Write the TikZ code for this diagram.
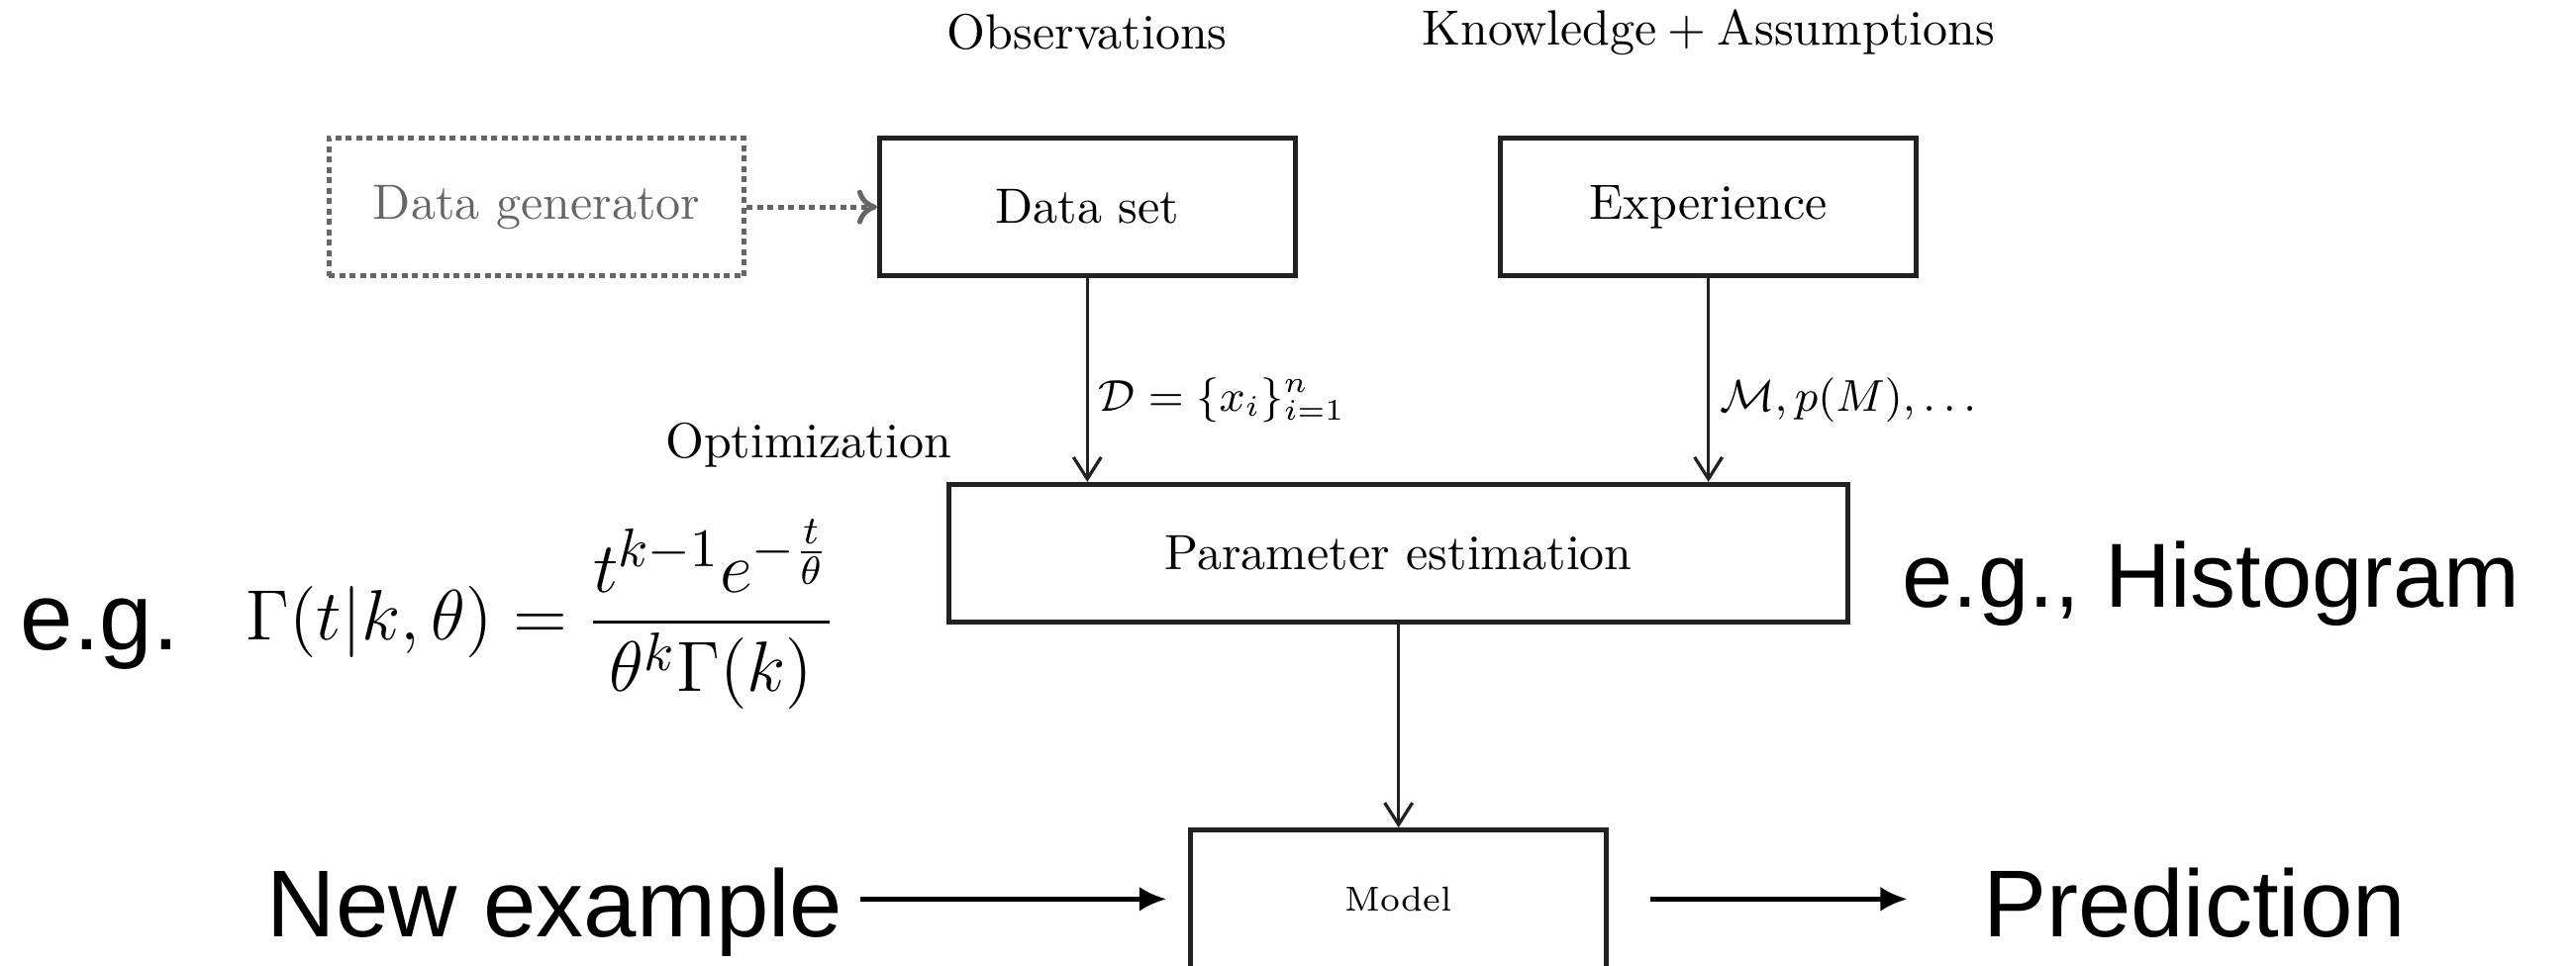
\documentclass[tikz,border=0pt]{standalone}
\usepackage{amsmath, amssymb}
\usepackage{fontspec}
\newfontfamily\helv{Liberation Sans}
\usetikzlibrary{arrows.meta}

\begin{document}
\begin{tikzpicture}[
		box/.style={draw=black!87, line width=1pt, minimum width=2.95cm, minimum height=0.98cm, inner sep=0pt},
		flow/.style={draw=black!87, line width=0.65pt, -{Straight Barb[length=4.4pt,width=5.6pt]}},
		lbl/.style={font=\fontsize{9.2}{11}\selectfont, inner sep=2pt},
		big/.style={font=\helv\fontsize{19.2}{22}\selectfont},
		bigarrow/.style={draw=black, line width=1pt, -{Latex[length=5.5pt,width=5pt]}}
	]
		\useasboundingbox (0,0) rectangle (18.29,6.86);
		% boxes
		\node[box, draw=black!60, dash pattern=on 1.2pt off 0.9pt, text=black!60] (generator) at (3.81,5.39) {Data generator};
		\node[box] (dataset) at (7.72,5.39) {Data set};
		\node[box] (experience) at (12.13,5.39) {Experience};
		\node[box, minimum width=6.38cm] (estimation) at (9.93,2.93) {Parameter estimation};
		\node[box, font=\scriptsize] (model) at (9.93,0.475) {Model};
		% headings
		\node (observations) at (7.72,6.63) {Observations};
		\node (knowledge) at (12.13,6.63) {Knowledge${}+{}$Assumptions};
		\node (optimization) at (5.74,3.70) {Optimization};
		% connectors
		\draw[draw=black!60, line width=1pt, dash pattern=on 1.2pt off 0.9pt, -{To[length=4pt,width=7pt,line width=1pt]}] (generator) -- (dataset);
		\draw[flow] (dataset) -- (dataset |- estimation.north) node[lbl, pos=0.6, right] {$\mathcal{D} = \{x_i\}_{i=1}^n$};
		\draw[flow] (experience) -- (experience |- estimation.north) node[lbl, pos=0.6, right] {$\mathcal{M}, p(M), \ldots$};
		\draw[flow] (estimation) -- (model);
		% examples
		\node[big, anchor=base west, inner sep=0pt] (eg) at (0.14,2.243) {e.g.};
		\node[font=\fontsize{15.8}{19}\selectfont, anchor=base] (gamma) at (3.84,2.313) {$\displaystyle \Gamma(t|k,\theta) = \frac{t^{k-1}e^{-\frac{t}{\theta}}}{\theta^k\Gamma(k)}$};
		\node[big, font=\helv\fontsize{18.4}{22}\selectfont, anchor=base west, inner sep=0pt] (histogram) at (13.50,2.545) {e.g., Histogram};
		\node[big, anchor=base] (newexample) at (3.94,0.21) {New example};
		\node[big, anchor=base] (prediction) at (15.58,0.21) {Prediction};
		\draw[bigarrow, shorten >=4.4pt] (newexample.east |- model) -- (model);
		\draw[bigarrow, shorten <=8.4pt, shorten >=11.7pt] (model) -- (model -| prediction.west);
	\end{tikzpicture}
\end{document}
